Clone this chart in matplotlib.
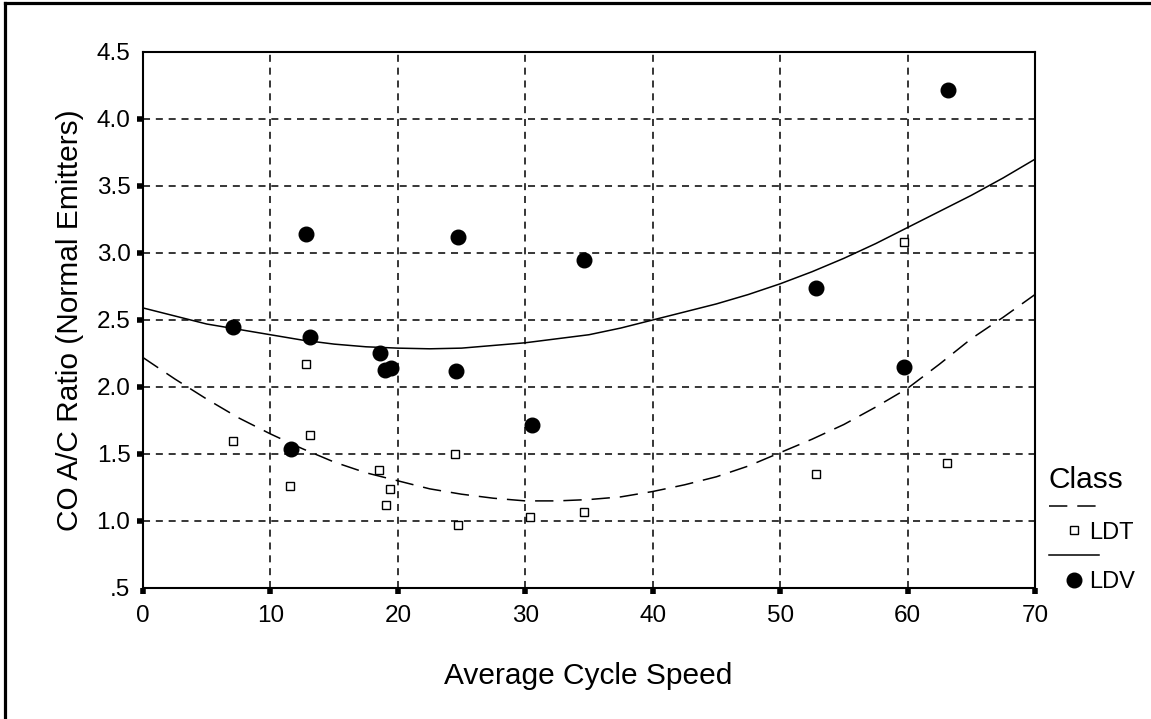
import matplotlib
matplotlib.use('Agg')
from matplotlib import pyplot as plt
from matplotlib.lines import Line2D

plt.rcParams['font.family'] = ['Liberation Sans', 'DejaVu Sans']

# puntos medidos (clase LDV, circulos rellenos)
ldv_velocidad = [7.1, 11.6, 12.8, 13.1, 18.6, 19.0, 19.5, 24.75, 24.6, 30.5, 34.6, 52.85, 59.7, 63.2]
ldv_ratio = [2.45, 1.54, 3.14, 2.37, 2.25, 2.13, 2.14, 3.12, 2.12, 1.72, 2.95, 2.74, 2.15, 4.22]

# puntos medidos (clase LDT, cuadrados huecos)
ldt_velocidad = [7.06, 11.5, 12.8, 13.1, 18.5, 19.1, 19.4, 24.5, 24.7, 30.4, 34.6, 52.8, 59.7, 63.1]
ldt_ratio = [1.60, 1.26, 2.17, 1.64, 1.38, 1.12, 1.24, 1.50, 0.97, 1.03, 1.065, 1.35, 3.08, 1.43]

# curvas de ajuste
curva_x = [0, 2.5, 5, 7.5, 10, 12.5, 15, 17.5, 20, 22.5, 25, 27.5, 30, 32.5, 35,
           37.5, 40, 42.5, 45, 47.5, 50, 52.5, 55, 57.5, 60, 62.5, 65, 67.5, 70]
curva_ldv = [2.59, 2.53, 2.47, 2.43, 2.39, 2.35, 2.32, 2.30, 2.29, 2.285, 2.29, 2.31, 2.33, 2.36, 2.39,
             2.44, 2.50, 2.56, 2.62, 2.69, 2.77, 2.86, 2.96, 3.07, 3.19, 3.31, 3.43, 3.56, 3.70]
curva_ldt = [2.22, 2.06, 1.91, 1.77, 1.65, 1.54, 1.44, 1.36, 1.30, 1.24, 1.20, 1.17, 1.15, 1.15, 1.16,
             1.18, 1.22, 1.27, 1.33, 1.41, 1.51, 1.61, 1.72, 1.85, 1.99, 2.17, 2.36, 2.52, 2.69]

xticks = [0, 10, 20, 30, 40, 50, 60, 70]
yticks = [0.5, 1.0, 1.5, 2.0, 2.5, 3.0, 3.5, 4.0, 4.5]
ytick_labels = ['.5', '1.0', '1.5', '2.0', '2.5', '3.0', '3.5', '4.0', '4.5']

fig = plt.figure(figsize=(11.51, 7.19), dpi=100)
ax = fig.add_axes([0.1242, 0.1822, 0.775, 0.7455])

ax.plot(curva_x, curva_ldt, color='black', lw=1.1, dashes=(12, 6.5))
ax.plot(curva_x, curva_ldv, color='black', lw=1.1)
ax.plot(ldt_velocidad, ldt_ratio, linestyle='none', marker='s', markersize=6,
        markerfacecolor='white', markeredgecolor='black', markeredgewidth=1.0)
ax.plot(ldv_velocidad, ldv_ratio, linestyle='none', marker='o', markersize=10.5,
        color='black')

ax.set_xlim(0, 70)
ax.set_ylim(0.5, 4.5)
ax.set_xticks(xticks)
ax.set_yticks(yticks)
ax.set_yticklabels(ytick_labels)
ax.tick_params(direction='out', length=4, width=4, labelsize=17.5, pad=5)
ax.tick_params(axis='x', pad=8)
# sin marca en .5 y 4.5
for t in (ax.yaxis.get_major_ticks()[0], ax.yaxis.get_major_ticks()[-1]):
    t.tick1line.set_visible(False)

ax.grid(True, color='black', lw=1.1, dashes=(4.6, 3.8))
for s in ax.spines.values():
    s.set_linewidth(1.5)

ax.set_xlabel('Average Cycle Speed', fontsize=21.5)
ax.xaxis.set_label_coords(0.499, -0.138)
ax.set_ylabel('CO A/C Ratio (Normal Emitters)', fontsize=21.5)
ax.yaxis.set_label_coords(-0.066, 0.5)

handles = [Line2D([], [], color='black', lw=1.1, dashes=(12, 6.5)),
           Line2D([], [], linestyle='none', marker='s', markersize=6,
                  markerfacecolor='white', markeredgecolor='black', markeredgewidth=1.0),
           Line2D([], [], color='black', lw=1.1),
           Line2D([], [], linestyle='none', marker='o', markersize=10.5, color='black')]
leg = ax.legend(handles, [' ', 'LDT', ' ', 'LDV'], title='Class', frameon=False,
                fontsize=17, title_fontsize=21.5, handlelength=2.1, handletextpad=-0.4,
                labelspacing=0.12, alignment='left', borderpad=0, borderaxespad=0,
                loc='upper left', bbox_to_anchor=(1049 / 1151, 1 - 466 / 719),
                bbox_transform=fig.transFigure)

# marco exterior (solo izquierda y arriba)
fig.add_artist(Line2D([5 / 1151, 5 / 1151], [0, 1 - 3 / 719], color='black', lw=2.3,
                      transform=fig.transFigure))
fig.add_artist(Line2D([5 / 1151, 1], [1 - 3 / 719, 1 - 3 / 719], color='black', lw=2.3,
                      transform=fig.transFigure))

fig.savefig('out.png', dpi=100)
